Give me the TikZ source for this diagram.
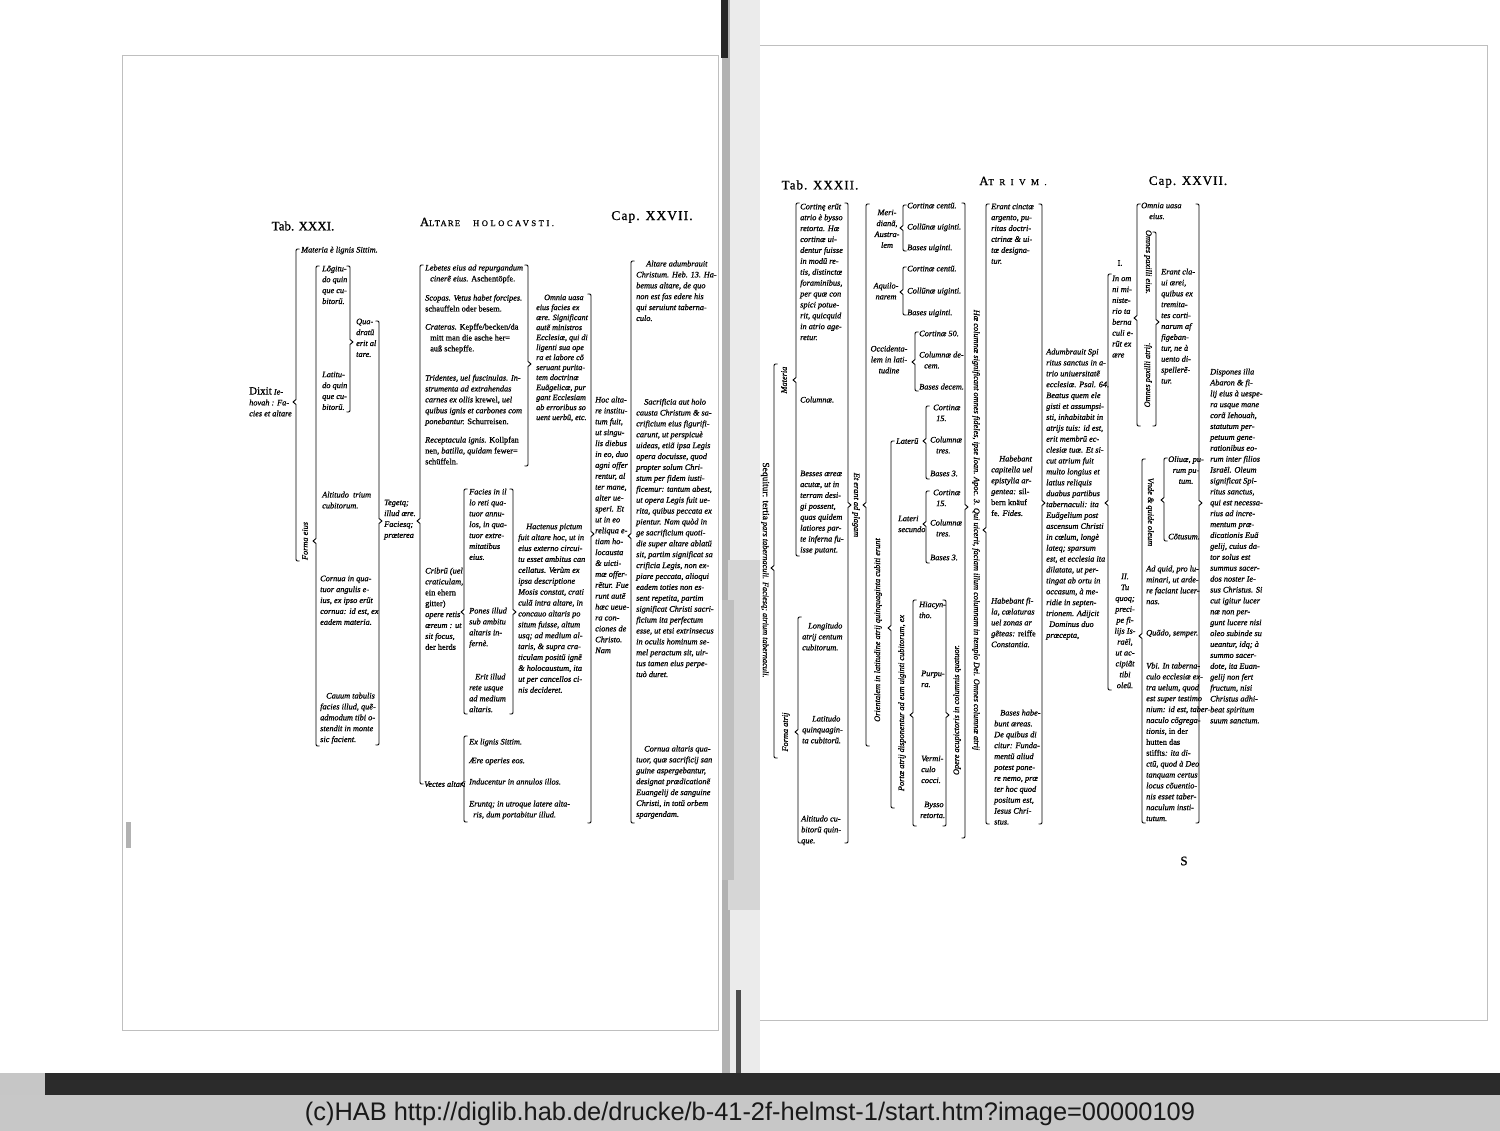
\documentclass[tikz,border=0pt]{standalone}
\usepackage{fontspec}
\setmainfont{Liberation Serif}
\newfontfamily\bodyfont[FakeBold=0.9]{Liberation Serif}
\newfontfamily\hdA[FakeBold=1]{Liberation Serif}
\newfontfamily\hdB[LetterSpace=8,FakeBold=1]{Liberation Serif}
\newfontfamily\scA[LetterSpace=15,FakeBold=0.8]{Liberation Serif}
\newfontfamily\scB[LetterSpace=30,FakeBold=0.8]{Liberation Serif}
\newfontfamily\scC[LetterSpace=60,FakeBold=0.8]{Liberation Serif}
\newfontfamily\footfont{Liberation Sans}
\usetikzlibrary{positioning}

\newcommand{\txtsize}{\bodyfont\fontsize{8.3}{10.9}\selectfont\itshape}
\newcommand{\txtsmall}{\bodyfont\fontsize{8.1}{10}\selectfont\itshape}

% brackets: x, top, bottom, tip
\newcommand{\brL}[4]{\draw[brk] (#1+3.5,#2) .. controls (#1,#2) .. (#1,#2+3.5) -- (#1,#4-2.5) -- (#1-3,#4) -- (#1,#4+2.5) -- (#1,#3-3.5) .. controls (#1,#3) .. (#1+3.5,#3);}
\newcommand{\brR}[4]{\draw[brk] (#1-3.5,#2) .. controls (#1,#2) .. (#1,#2+3.5) -- (#1,#4-2.5) -- (#1+3,#4) -- (#1,#4+2.5) -- (#1,#3-3.5) .. controls (#1,#3) .. (#1-3.5,#3);}

\definecolor{band}{gray}{0.78}
\definecolor{scan}{gray}{0.17}
\definecolor{gutter}{gray}{0.70}
\definecolor{frame}{gray}{0.75}

\tikzset{
  brk/.style={line width=0.9pt, line join=round},
  txt/.style={font=\txtsize, align=left, anchor=north west, inner sep=0pt},
  txts/.style={font=\txtsmall, align=left, anchor=north west, inner sep=0pt},
  ctxt/.style={txt, align=center, anchor=north},
  vtxt/.style={font=\txtsize, inner sep=0pt, rotate=90},
  vdtxt/.style={font=\txtsize, inner sep=0pt, rotate=-90},
  head/.style={inner sep=0pt}
}

\begin{document}
\begin{tikzpicture}[x=1pt,y=-1pt]
\useasboundingbox (0,0) rectangle (1500,1131);

% scan background
\fill[gray!16] (730,0) rectangle (760,1073);
\fill[gutter] (722,0) rectangle (730,1073);
\fill[black!85] (721,0) rectangle (728,58);
\fill[gray!32] (728,560) rectangle (760,910);
\fill[gray!50] (722,600) rectangle (734,880);
\fill[black!70] (736,990) rectangle (741,1073);
\fill[gray!60] (126,822) rectangle (131,848);
\draw[frame, line width=0.4pt] (122,55) rectangle (718,1030);
\draw[frame, line width=0.4pt] (760,45) -- (1487,45) -- (1487,1020) -- (760,1020);
\fill[scan] (0,1073) rectangle (1500,1095);
\fill[gray!45] (0,1073) rectangle (45,1095);
\fill[band] (0,1095) rectangle (1500,1131);
\node[font=\footfont\fontsize{25.4}{25}\selectfont, text=black!90, inner sep=0pt] (footer) at (750,1114)
  {(c)HAB http://diglib.hab.de/drucke/b-41-2f-helmst-1/start.htm?image=00000109};

% ---------------- left page ----------------
\node[head, font=\hdA\fontsize{13}{13}\selectfont] (tabL) at (303,226) {Tab. XXXI.};
\node[head] (altare) at (487,222) {{\hdA\fontsize{12.5}{12}\selectfont A}{\scA\fontsize{8.5}{8}\selectfont LTARE}\hspace{13pt}{\scB\fontsize{8.5}{8}\selectfont HOLOCAVSTI.}};
\node[head, font=\hdB\fontsize{13.5}{13}\selectfont] (capL) at (652,217) {Cap. XXVII.};

\node[txt] (dixit) at (249,387) {{\upshape\fontsize{11}{10.5}\selectfont Dixit} Ie-\\hovah : Fa-\\cies et altare};
\brL{296}{249}{561}{402}
\node[txt] (materia) at (301,246.5) {Materia è lignis Sittim.};
\node[vtxt] (forma) at (305,541) {Forma eius};
\brL{316}{266}{746}{541}
\node[txt] (longit) at (322,265.5) {Lõgitu-\\do quin\\que cu-\\bitorũ.};
\node[txt] (latit) at (322,371.5) {Latitu-\\do quin\\que cu-\\bitorũ.};
\brR{350}{266}{412}{342}
\node[txt] (quadr) at (356,318.5) {Qua-\\dratũ\\erit al\\tare.};
\node[txt] (altit) at (322,491.5) {Altitudo \ trium\\cubitorum.};
\node[txt] (cornua) at (320,575.5) {Cornua in qua-\\tuor angulis e-\\ius, ex ipso erũt\\cornua: id est, ex\\eadem materia.};
\node[txt] (cauum) at (320,692.5) {\hspace{6pt}Cauum tabulis\\facies illud, quẽ-\\admodum tibi o-\\stendit in monte\\sic facient.};
\brR{379}{321}{745}{521}
\node[txt] (teget) at (384,499.5) {Tegetq;\\illud ære.\\Faciesq;\\præterea};
\brL{420}{265}{784}{521}

\node[txt] (leb1) at (425,264.5) {Lebetes eius ad repurgandum\\\hspace{5pt}cinerẽ eius. \textup{Aschentöpfe.}};
\node[txt] (leb2) at (425,294.5) {Scopas. Vetus habet forcipes.\\\textup{schauffeln oder besem.}};
\node[txt] (leb3) at (425,323.5) {Crateras. \textup{Kepffe/becken/da}\\\hspace{5pt}\textup{mitt man die asche her=}\\\hspace{5pt}\textup{auß schepffe.}};
\node[txt] (leb4) at (425,374.5) {Tridentes, uel fuscinulas. In-\\strumenta ad extrahendas\\carnes ex ollis \textup{krewel}, uel\\quibus ignis et carbones com\\ponebantur. \textup{Schurreisen.}};
\node[txt] (leb5) at (425,436.5) {Receptacula ignis. \textup{Kollpfan}\\\textup{nen}, batilla, quidam \textup{fewer=}\\\textup{schüffeln.}};
\brR{528}{265}{466}{364}
\node[txts] (omnia) at (536,294.5) {\hspace{8pt}Omnia uasa\\eius facies ex\\ære. Significant\\autẽ ministros\\Ecclesiæ, qui di\\ligenti sua ope\\ra et labore cõ\\seruant purita-\\tem doctrinæ\\Euãgelicæ, pur\\gant Ecclesiam\\ab erroribus so\\uent uerbũ, etc.};

\node[txt] (cribrum) at (425,567.5) {Cribrũ (uel\\craticulam,\\\textup{ein ehern}\\\textup{gitter)}\\opere retis\\æreum : ut\\sit focus,\\\textup{der herds}};
\brL{464}{489}{714}{612}
\node[txt] (facies) at (469,488.5) {Facies in il\\lo reti qua-\\tuor annu-\\los, in qua-\\tuor extre-\\mitatibus\\eius.};
\node[txt] (pones) at (469,607.5) {Pones illud\\sub ambitu\\altaris in-\\fernè.};
\node[txt] (erit) at (469,673.5) {\hspace{6pt}Erit illud\\rete usque\\ad medium\\altaris.};
\brR{513}{489}{714}{612}
\node[txt] (hact) at (518,523.5) {\hspace{8pt}Hactenus pictum\\fuit altare hoc, ut in\\eius externo circui-\\tu esset ambitus can\\cellatus. Verùm ex\\ipsa descriptione\\Mosis constat, crati\\culã intra altare, in\\concauo altaris po\\situm fuisse, altum\\usq; ad medium al-\\taris, \& supra cra-\\ticulam positũ ignẽ\\\& holocaustum, ita\\ut per cancellos ci-\\nis decideret.};

\node[txt, anchor=west] (vectes) at (424,784) {Vectes altari};
\brL{464}{736}{822}{784}
\node[txt] (exlig) at (469,738.5) {Ex lignis Sittim.};
\node[txt] (aere) at (469,757.5) {Ære operies eos.};
\node[txt] (induc) at (469,778.5) {Inducentur in annulos illos.};
\node[txt] (erunt) at (469,800.5) {Eruntq; in utroque latere alta-\\\hspace{4pt}ris, dum portabitur illud.};

\brR{591}{294}{823}{534}
\node[txt] (hoc) at (595,396.5) {Hoc alta-\\re institu-\\tum fuit,\\ut singu-\\lis diebus\\in eo, duo\\agni offer\\rentur, al\\ter mane,\\alter ue-\\speri. Et\\ut in eo\\reliqua e-\\tiam ho-\\locausta\\\& uicti-\\mæ offer-\\rẽtur. Fue\\runt autẽ\\hæc ueue-\\ra con-\\ciones de\\Christo.\\Nam};
\brL{631}{261}{823}{536}
\node[txt] (adumb) at (636,260.5) {\hspace{10pt}Altare adumbrauit\\Christum. Heb. 13. Ha-\\bemus altare, de quo\\non est fas edere his\\qui seruiunt taberna-\\culo.};
\node[txt] (sacr) at (636,398.5) {\hspace{8pt}Sacrificia aut holo\\causta Christum \& sa-\\crificium eius figurifi-\\carunt, ut perspicuè\\uideas, etiã ipsa Legis\\opera docuisse, quod\\propter solum Chri-\\stum per fidem iusti-\\ficemur: tantum abest,\\ut opera Legis fuit ue-\\rita, quibus peccata ex\\pientur. Nam quòd in\\ge sacrificium quoti-\\die super altare ablatũ\\sit, partim significat sa\\crificia Legis, non ex-\\piare peccata, alioqui\\eadem toties non es-\\sent repetita, partim\\significat Christi sacri-\\ficium ita perfectum\\esse, ut etsi extrinsecus\\in oculis hominum se-\\mel peractum sit, uir-\\tus tamen eius perpe-\\tuò duret.};
\node[txt] (cornAlt) at (636,745.5) {\hspace{8pt}Cornua altaris qua-\\tuor, quæ sacrificij san\\guine aspergebantur,\\designat prædicationẽ\\Euangelij de sanguine\\Christi, in totũ orbem\\spargendam.};

% ---------------- right page ----------------
\node[head, font=\hdB\fontsize{13}{13}\selectfont] (tabR) at (820,185) {Tab. XXXII.};
\node[head] (atrium) at (1013,181) {{\hdA\fontsize{12.5}{12}\selectfont A}{\scC\fontsize{9}{8}\selectfont TRIVM.}};
\node[head, font=\hdB\fontsize{13}{13}\selectfont] (capR) at (1188,182) {Cap. XXVII.};

\node[vdtxt] (sequitur) at (765,570) {{\upshape\fontsize{9.5}{9}\selectfont Sequitur: tertia} pars tabernaculi. Faciesq; atrium tabernaculi.};
\brL{774}{364}{758}{568}
\node[vtxt] (materiaR) at (784,380) {Materia};
\node[vtxt] (formaR) at (786,732) {Forma atrij};
\brL{796}{203}{556}{380}
\brL{798}{617}{843}{732}
\node[txt] (cortinae) at (800,203.5) {Cortinę erũt\\atrio è bysso\\retorta. Hæ\\cortinæ ui-\\dentur fuisse\\in modũ re-\\tis, distinctæ\\foraminibus,\\per quæ con\\spici potue-\\rit, quicquid\\in atrio age-\\retur.};
\node[txt] (columnae) at (800,396.5) {Columnæ.};
\node[txt] (besses) at (800,470.5) {Besses æreæ\\acutæ, ut in\\terram desi-\\gi possent,\\quas quidem\\latiores par-\\te inferna fu-\\isse putant.};
\node[txt] (longR) at (802,622.5) {\hspace{6pt}Longitudo\\atrij centum\\cubitorum.};
\node[txt] (latR) at (802,715.5) {\hspace{10pt}Latitudo\\quinquagin-\\ta cubitorũ.};
\node[txt] (altR) at (801,815.5) {Altitudo cu-\\bitorũ quin-\\que.};
\brR{848}{203}{843}{505}
\node[vdtxt] (etErant) at (856,505) {Et erant ad plagam};
\brL{866}{204}{746}{505}

\node[ctxt] (merid) at (887,209.5) {Meri-\\dianã,\\Austra-\\lem};
\brL{903}{205}{251}{228}
\node[txt] (c1a) at (907,202.5) {Cortinæ centũ.};
\node[txt] (c1b) at (907,223.5) {Collũnæ uiginti.};
\node[txt] (c1c) at (907,244.5) {Bases uiginti.};
\node[ctxt] (aquilo) at (886,282.5) {Aquilo-\\narem};
\brL{903}{267}{315}{292}
\node[txt] (c2a) at (907,265.5) {Cortinæ centũ.};
\node[txt] (c2b) at (907,287.5) {Collũnæ uiginti.};
\node[txt] (c2c) at (907,309.5) {Bases uiginti.};
\node[ctxt] (occid) at (889,345.5) {Occidenta-\\lem in lati-\\tudine};
\brL{915}{332}{391}{362}
\node[txt] (c3a) at (919,330.5) {Cortinæ 50.};
\node[txt] (c3b) at (919,351.5) {Columnæ de-\\\hspace{5pt}cem.};
\node[txt] (c3c) at (919,383.5) {Bases decem.};

\brL{891}{441}{808}{628}
\node[vtxt] (orient) at (878,630) {Orientalem in latitudine atrij quinquaginta cubiti erunt};
\node[txt, anchor=west] (laterum) at (896,441) {Laterũ};
\brL{926}{406}{479}{441}
\node[txt] (c4a) at (930,404.5) {\hspace{3pt}Cortinæ\\\hspace{6pt}15.};
\node[txt] (c4b) at (930,436.5) {Columnæ\\\hspace{6pt}tres.};
\node[txt] (c4c) at (930,470.5) {Bases 3.};
\node[txt] (lateri2) at (898,515.5) {Lateri\\secundo};
\brL{926}{491}{563}{524}
\node[txt] (c5a) at (930,489.5) {\hspace{3pt}Cortinæ\\\hspace{6pt}15.};
\node[txt] (c5b) at (930,519.5) {Columnæ\\\hspace{6pt}tres.};
\node[txt] (c5c) at (930,554.5) {Bases 3.};

\node[vtxt] (portae) at (902,703) {Portæ atrij disponentur ad eum uiginti cubitorum, ex};
\brL{913}{600}{826}{715}
\node[txt] (hiac) at (919,601.5) {Hiacyn-\\tho.};
\node[txt] (purp) at (921,670.5) {Purpu-\\ra.};
\node[txt] (verm) at (921,755.5) {Vermi-\\culo\\cocci.};
\node[txt] (byss) at (920,801.5) {\hspace{4pt}Bysso\\retorta.};
\brR{946}{600}{826}{715}
\node[vtxt] (opere) at (957,710) {Opere acupictoris in columnis quatuor.};
\brR{965}{203}{838}{507}

\node[vdtxt] (haec) at (976,530) {Hæ columnæ significant omnes fideles, ipse Ioan. Apoc. 3. Qui uicerit, faciam illum columnam in templo Dei. Omnes columnæ atrij};
\brL{986}{204}{824}{530}
\node[txt] (erantC) at (991,203.5) {Erant cinctæ\\argento, pu-\\ritas doctri-\\ctrinæ \& ui-\\tæ designa-\\tur.};
\node[txt] (hab1) at (991,455.5) {\hspace{8pt}Habebant\\capitella uel\\epistylia ar-\\gentea: \textup{sil-}\\\textup{bern knäuf}\\\textup{fe}. Fides.};
\node[txt] (hab2) at (991,597.5) {Habebant fi-\\la, cælaturas\\uel zonas ar\\gẽteas: \textup{reiffe}\\Constantia.};
\node[txt] (basesC) at (994,709.5) {\hspace{6pt}Bases habe-\\bunt æreas.\\De quibus di\\citur: Funda-\\mentũ aliud\\potest pone-\\re nemo, præ\\ter hoc quod\\positum est,\\Iesus Chri-\\stus.};
\brR{1042}{204}{824}{503}

\node[txt] (adumbR) at (1046,348.5) {Adumbrauit Spi\\ritus sanctus in a-\\trio uniuersitatẽ\\ecclesiæ. Psal. 64.\\Beatus quem ele\\gisti et assumpsi-\\sti, inhabitabit in\\atrijs tuis: id est,\\erit membrũ ec-\\clesiæ tuæ. Et si-\\cut atrium fuit\\multo longius et\\latius reliquis\\duabus partibus\\tabernaculi: ita\\Euãgelium post\\ascensum Christi\\in cœlum, longè\\lateq; sparsum\\est, et ecclesia ita\\dilatata, ut per-\\tingat ab ortu in\\occasum, à me-\\ridie in septen-\\trionem. Adijcit\\\hspace{3pt}Dominus duo\\præcepta,};
\brL{1108}{274}{690}{503}
\node[ctxt, font=\hdA\fontsize{8.5}{8}\selectfont] (one) at (1120,260) {I.};
\node[txt] (inom) at (1112,275.5) {In om\\ni mi-\\niste-\\rio ta\\berna\\culi e-\\rũt ex\\ære};
\node[ctxt] (two) at (1125,573.5) {II.\\Tu\\quoq;\\preci-\\pe fi-\\lijs Is-\\raël,\\ut ac-\\cipiãt\\tibi\\oleũ.};

\brL{1137}{204}{426}{318}
\node[txt] (omniaU) at (1141,202.5) {Omnia uasa\\\hspace{8pt}eius.};
\node[vdtxt] (paxE) at (1148,262) {Omnes paxilli eius.};
\node[vtxt] (paxA) at (1148,375) {Omnes paxilli atrij.};
\brR{1156}{232}{426}{322}
\node[txt] (clavi) at (1161,268.5) {Erant cla-\\ui ærei,\\quibus ex\\tremita-\\tes corti-\\narum af\\figeban-\\tur, ne à\\uento di-\\spellerẽ-\\tur.};

\brL{1142}{459}{823}{636}
\node[vdtxt] (unde) at (1150,512) {Vnde \& quide oleum};
\brL{1164}{458}{541}{500}
\node[ctxt] (oliuae) at (1186,456) {Oliuæ, pu-\\rum pu-\\tum.};
\node[txt] (cotus) at (1168,533.5) {Cõtusum.};
\node[txt] (adquid) at (1146,565.5) {Ad quid, pro lu-\\minari, ut arde-\\re faciant lucer-\\nas.};
\node[txt] (quando) at (1146,629.5) {Quãdo, semper.};
\node[txt] (ubi) at (1146,662.5) {Vbi. In taberna-\\culo ecclesiæ ex-\\tra uelum, quod\\est super testimo\\nium: id est, taber-\\naculo cõgrega-\\tionis, \textup{in der}\\\textup{hutten das}\\\textup{stiffts}: ita di-\\ctũ, quod à Deo\\tanquam certus\\locus cõuentio-\\nis esset taber-\\naculum insti-\\tutum.};
\brR{1199}{204}{823}{503}
\node[txt] (dispones) at (1210,368.5) {Dispones illa\\Abaron \& fi-\\lij eius à uespe-\\ra usque mane\\corã Iehouah,\\statutum per-\\petuum gene-\\rationibus eo-\\rum inter filios\\Israël. Oleum\\significat Spi-\\ritus sanctus,\\qui est necessa-\\rius ad incre-\\mentum præ-\\dicationis Euã\\gelij, cuius da-\\tor solus est\\summus sacer-\\dos noster Ie-\\sus Christus. Si\\cut igitur lucer\\næ non per-\\gunt lucere nisi\\oleo subinde su\\ueantur, idq; à\\summo sacer-\\dote, ita Euan-\\gelij non fert\\fructum, nisi\\Christus adhi-\\beat spiritum\\suum sanctum.};
\node[head, font=\hdA\fontsize{13}{13}\selectfont] (sig) at (1184,861) {S};

\end{tikzpicture}
\end{document}
